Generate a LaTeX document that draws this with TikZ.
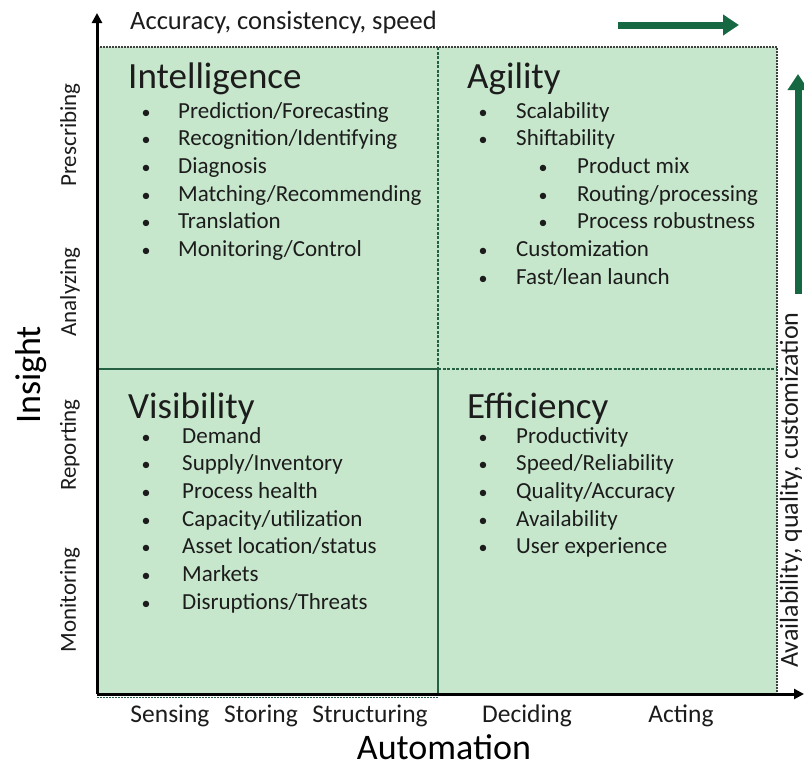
\documentclass[tikz,border=0pt]{standalone}
\usepackage{fontspec}
\setmainfont{Carlito}
\usetikzlibrary{arrows.meta}
\definecolor{quadfill}{RGB}{199,231,204}
\definecolor{divgreen}{RGB}{38,96,66}
\definecolor{arrowgreen}{RGB}{22,104,66}
\definecolor{txt}{RGB}{28,28,28}
\begin{document}
\begin{tikzpicture}[x=1pt,y=-1pt,
  title/.style={anchor=base west, font=\fontsize{37}{40}\selectfont, text=txt, inner sep=0pt},
  item/.style={anchor=base west, font=\fontsize{23}{26}\selectfont, text=txt, inner sep=0pt},
  bul/.style={anchor=base, font=\fontsize{18}{26}\selectfont, text=txt, inner sep=0pt},
  axlabel/.style={font=\fontsize{23}{26}\selectfont, text=txt, inner sep=0pt},
  axtitle/.style={font=\fontsize{36}{40}\selectfont, text=black, inner sep=0pt},
  axisline/.style={black, line width=3pt, -{Triangle[length=10pt,width=10pt]}},
  garrow/.style={arrowgreen, line width=7pt, -{Triangle[length=16pt,width=20pt]}},
  solidiv/.style={divgreen, line width=1.2pt},
  dashdiv/.style={divgreen, line width=1.2pt, dash pattern=on 3pt off 1.5pt},
  dotborder/.style={black!75, line width=1.2pt, dash pattern=on 1.5pt off 1.5pt},
]
\useasboundingbox (0,0) rectangle (804,771);
\fill[white] (0,0) rectangle (804,771);
% corners
\coordinate (TL) at (97,47);
\coordinate (TR) at (777,47);
\coordinate (BR) at (777,694);
\coordinate (O) at (97,694);
\coordinate (MT) at (438,47);
\coordinate (MC) at (438,369);
\coordinate (MB) at (438,694);
\coordinate (ML) at (97,369);
\coordinate (MR) at (777,369);
\coordinate (Ytip) at (97,13);
\coordinate (Xtip) at (804,694);
% fill
\fill[quadfill] (TL) rectangle (BR);
% borders and dividers
\draw[dotborder] (TL) -- (TR) -- (BR);
\draw[dashdiv] (MT) -- (MC);
\draw[solidiv] (MC) -- (MB);
\draw[solidiv] (ML) -- (MC);
\draw[dashdiv] (MC) -- (MR);
\draw[divgreen, line width=1pt, dash pattern=on 1.5pt off 1.5pt] (97,697) -- (438,697);
% axes
\draw[axisline] (O) -- (Ytip);
\draw[axisline] (O) -- (Xtip);
% green arrows
\coordinate (ga1) at (618,25);
\coordinate (ga2) at (739,25);
\draw[garrow] (ga1) -- (ga2);
\coordinate (gb1) at (798,294);
\coordinate (gb2) at (798,74);
\draw[garrow] (gb1) -- (gb2);
% top text
\node[item, font=\fontsize{26.5}{30}\selectfont] (acc) at (130,29) {Accuracy, consistency, speed};
% right text
\node[axlabel, font=\fontsize{26}{28}\selectfont, rotate=90] (avail) at (791,490) {Availability, quality, customization};
% left labels
\node[axtitle, rotate=90] (insight) at (31,375) {Insight};
\node[axlabel, rotate=90] (presc) at (70,135) {Prescribing};
\node[axlabel, rotate=90] (analy) at (70,292) {Analyzing};
\node[axlabel, rotate=90] (repo) at (70,445) {Reporting};
\node[axlabel, rotate=90] (moni) at (70,600) {Monitoring};
% bottom labels
\node[axlabel, font=\fontsize{25.5}{28}\selectfont, anchor=base] (sens) at (170,722) {Sensing};
\node[axlabel, font=\fontsize{25.5}{28}\selectfont, anchor=base] (stor) at (261,722) {Storing};
\node[axlabel, font=\fontsize{25.5}{28}\selectfont, anchor=base] (stru) at (370,722) {Structuring};
\node[axlabel, font=\fontsize{25.5}{28}\selectfont, anchor=base] (deci) at (527,722) {Deciding};
\node[axlabel, font=\fontsize{25.5}{28}\selectfont, anchor=base] (acti) at (681,722) {Acting};
\node[axtitle, anchor=base] (auto) at (444,759) {Automation};
% Intelligence
\node[title] (intel) at (128,88) {Intelligence};
\foreach \t [count=\i from 0] in {Prediction/Forecasting,Recognition/Identifying,Diagnosis,Matching/Recommending,Translation,Monitoring/Control}{
  \node[bul] (ib\i) at (146,118+27.7*\i) {•};
  \node[item] (it\i) at (178,118+27.7*\i) {\t};
}
% Agility
\node[title] (agil) at (467,88) {Agility};
\foreach \t/\bx/\tx [count=\i from 0] in {Scalability/483/516,Shiftability/483/516,Product mix/543/577,Routing\slash processing/543/577,Process robustness/543/577,Customization/483/516,Fast\slash lean launch/483/516}{
  \node[bul] (ab\i) at (\bx,118+27.7*\i) {•};
  \node[item] (at\i) at (\tx,118+27.7*\i) {\t};
}
% Visibility
\node[title] (visi) at (128,418) {Visibility};
\foreach \t [count=\i from 0] in {Demand,Supply/Inventory,Process health,Capacity/utilization,Asset location/status,Markets,Disruptions/Threats}{
  \node[bul] (vb\i) at (146,443+27.7*\i) {•};
  \node[item] (vt\i) at (182,443+27.7*\i) {\t};
}
% Efficiency
\node[title] (effi) at (467,418) {Efficiency};
\foreach \t [count=\i from 0] in {Productivity,Speed/Reliability,Quality/Accuracy,Availability,User experience}{
  \node[bul] (eb\i) at (483,443+27.7*\i) {•};
  \node[item] (et\i) at (516,443+27.7*\i) {\t};
}
\end{tikzpicture}
\end{document}
